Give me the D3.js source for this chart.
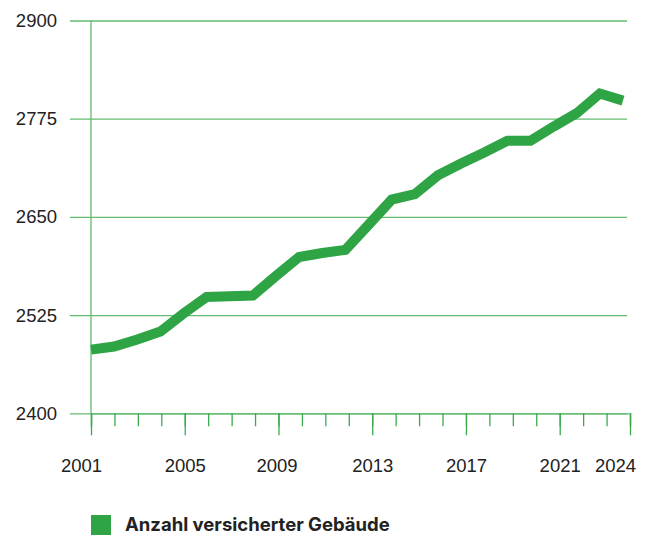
<!DOCTYPE html>
<html lang="de">
<head>
<meta charset="UTF-8">
<title>Anzahl versicherter Gebäude</title>
<script src="https://d3js.org/d3.v7.min.js"></script>
<style>
    body {
        margin: 0;
        background: white;
        font-family: Inter, "Noto Sans", sans-serif;
    }
    .axis text {
        fill: #222;
        font-size: 18.5px;
    }
</style>
</head>
<body>
<div id="chart"></div>
<script>
    // data
    var years = [2001, 2002, 2003, 2004, 2005, 2006, 2007, 2008, 2009, 2010, 2011, 2012,
                 2013, 2014, 2015, 2016, 2017, 2018, 2019, 2020, 2021, 2022, 2023, 2024];
    var buildings = [2481, 2485, 2494, 2504, 2527, 2548, 2549, 2550, 2575, 2599, 2604, 2608,
                     2640, 2672, 2679, 2703, 2718, 2732, 2747, 2747, 2765, 2782, 2807, 2798];
    var yTicks = [2400, 2525, 2650, 2775, 2900];
    var xLabels = [2001, 2005, 2009, 2013, 2017, 2021, 2024];
    var seriesName = "Anzahl versicherter Gebäude";

    var width = 647, height = 536;
    var plotLeft = 91, plotRight = 630, plotTop = 20.5, plotBottom = 413.3;
    var green = "#2ea445", gridGreen = "#62bb70";

    var svg = d3.select("#chart").append("svg")
        .attr("width", width)
        .attr("height", height);

    var x = d3.scaleLinear().domain([2001, 2024]).range([plotLeft, plotRight]);
    // the line itself sits on a slightly shorter run than the ticks
    var xLine = d3.scaleLinear().domain([2001, 2024]).range([plotLeft, 623]);
    var y = d3.scaleLinear().domain([2400, 2900]).range([plotBottom, plotTop]);

    // horizontal grid + y labels
    var yAxis = d3.axisLeft(y)
        .tickValues(yTicks)
        .tickSize(-(627 - 70))
        .tickPadding(13)
        .tickFormat(d3.format("d"));
    var gy = svg.append("g").attr("class", "axis").attr("transform", "translate(70,0)").call(yAxis);
    gy.select(".domain").remove();
    gy.selectAll("line").attr("stroke", gridGreen).attr("stroke-width", 1.3);

    // vertical axis line
    svg.append("line")
        .attr("x1", x(2001)).attr("x2", x(2001))
        .attr("y1", y(2900)).attr("y2", y(2400))
        .attr("stroke", gridGreen).attr("stroke-width", 1.3);

    // minor ticks every year
    var gMinor = svg.append("g").attr("class", "axis")
        .attr("transform", "translate(0," + plotBottom + ")")
        .call(d3.axisBottom(x).tickValues(years).tickSize(13).tickFormat(""));
    gMinor.select(".domain").attr("stroke", gridGreen).attr("stroke-width", 1.3);
    gMinor.selectAll("line").attr("stroke", "#3aaa4c").attr("stroke-width", 1.3);

    // labelled major ticks
    var gMajor = svg.append("g").attr("class", "axis")
        .attr("transform", "translate(0," + plotBottom + ")")
        .call(d3.axisBottom(x).tickValues(xLabels).tickSize(22).tickFormat(d3.format("d")));
    gMajor.select(".domain").remove();
    gMajor.selectAll("line").attr("stroke", "#3aaa4c").attr("stroke-width", 1.3);
    gMajor.selectAll("text")
        .attr("y", 59)
        .attr("dy", 0)
        .attr("dx", d => d === 2001 ? -10 : d === 2024 ? -15 : d === 2009 ? -2 : 0);

    // the series
    var line = d3.line()
        .x((d, i) => xLine(years[i]))
        .y(d => y(d));

    svg.append("path")
        .datum(buildings)
        .attr("d", line)
        .attr("fill", "none")
        .attr("stroke", green)
        .attr("stroke-width", 10)
        .attr("stroke-linejoin", "miter");

    // legend
    var legend = svg.append("g").attr("transform", "translate(91,515)");
    legend.append("rect").attr("width", 20).attr("height", 20).attr("fill", green);
    legend.append("text")
        .attr("x", 34).attr("y", 16)
        .attr("fill", "#222")
        .attr("font-size", "18.5px")
        .attr("font-weight", 700)
        .text(seriesName);
</script>
</body>
</html>
